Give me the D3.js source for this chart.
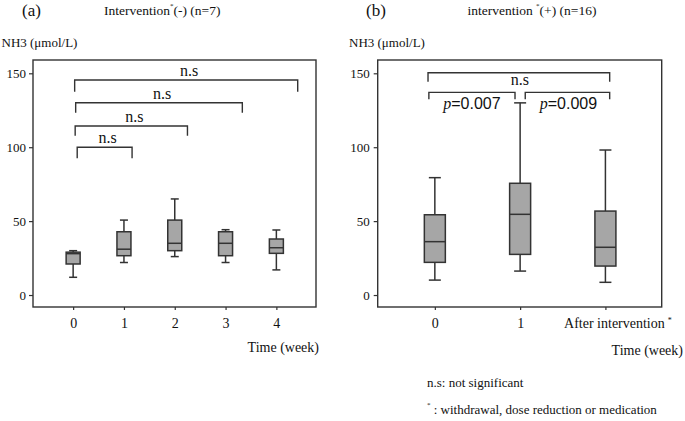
<!DOCTYPE html>
<html><head><meta charset="utf-8">
<script src="https://cdn.jsdelivr.net/npm/d3@7"></script>
<style>
body{margin:0;background:#fff;}
</style></head>
<body><svg id="c" width="685" height="421"></svg>
<script>
// ---- Data ----
const weeksA = ["0","1","2","3","4"];
const aMin = [12, 22, 26, 22, 17];
const aQ1  = [21, 26.6, 30, 26.6, 28.2];
const aMed = [28, 31, 35, 35, 32];
const aQ3  = [29, 42.8, 50.7, 42.8, 37.9];
const aMax = [30, 50.7, 65, 44.2, 44];

const weeksB = ["0","1","After intervention"];
const bMin = [10.1, 16.2, 8.6];
const bQ1  = [22.1, 27.5, 19.6];
const bMed = [36.1, 54.6, 32.3];
const bQ3  = [54.3, 75.6, 56.8];
const bMax = [79.4, 130, 98.1];

const yTicks = [0, 50, 100, 150];
// brackets: x from/to (in category units), bar level, leg end level
const bracketFromA = [0.08, 0.04, 0.05, 0.03];
const bracketToA   = [1.16, 2.25, 3.33, 4.42];
const bracketYA    = [100, 114.3, 130.1, 145.5];
const bracketLegA  = [92.5, 107.8, 123.3, 137.5];
const bracketLabA  = ["n.s","n.s","n.s","n.s"];

const bracketFromB = [-0.08, -0.07, 1.06];
const bracketToB   = [2.05, 0.94, 2.05];
const bracketYB    = [150.4, 137.1, 137.1];
const bracketLegB  = [144.3, 132.4, 132.4];
const pLabels = ["0.007","0.009"];

const SERIF = "'Liberation Serif'";
const svg = d3.select("#c");
const stroke = "#333";

function panel(cfg){
  const g = svg.append("g");
  const x = d3.scaleLinear().domain(cfg.xDom).range([cfg.left, cfg.right]);
  const y = d3.scaleLinear().domain([-8.1, 159]).range([307, 60]);
  g.append("rect").attr("x", cfg.left).attr("y", 60)
    .attr("width", cfg.right-cfg.left).attr("height", 247)
    .attr("fill","none").attr("stroke",stroke).attr("stroke-width",1.4);
  const ya = g.append("g").attr("transform",`translate(${cfg.left},0)`)
    .call(d3.axisLeft(y).tickValues(yTicks).tickSize(4).tickPadding(cfg.yPad));
  ya.attr("font-family",null);
  ya.select(".domain").remove();
  ya.selectAll("line").attr("stroke",stroke).attr("stroke-width",1.2);
  ya.selectAll("text").style("font-size","13px").attr("fill","#111");
  const xa = g.append("g").attr("transform",`translate(0,307)`)
    .call(d3.axisBottom(x).tickValues(cfg.cats.map((d,i)=>i)).tickFormat(i=>cfg.cats[i]).tickSize(3).tickPadding(8));
  xa.attr("font-family",null);
  xa.select(".domain").remove();
  xa.selectAll("line").attr("stroke",stroke).attr("stroke-width",1.2);
  xa.selectAll("text").style("font-size","14px").attr("fill","#111");
  if(cfg.lastLabelShift){
    xa.selectAll(".tick").filter((d,i)=>i===cfg.cats.length-1).select("text")
      .attr("dx", cfg.lastLabelShift)
      .append("tspan").attr("dx",3).attr("dy",-5).style("font-size","8px").text("*");
  }
  const bw = cfg.boxW, cw = cfg.capW;
  cfg.cats.forEach((c,i)=>{
    const cx = x(i);
    const bg = g.append("g");
    bg.append("line").attr("x1",cx).attr("x2",cx).attr("y1",y(cfg.min[i])).attr("y2",y(cfg.q1[i]));
    bg.append("line").attr("x1",cx).attr("x2",cx).attr("y1",y(cfg.q3[i])).attr("y2",y(cfg.max[i]));
    bg.append("line").attr("x1",cx-cw/2).attr("x2",cx+cw/2).attr("y1",y(cfg.min[i])).attr("y2",y(cfg.min[i]));
    bg.append("line").attr("x1",cx-cw/2).attr("x2",cx+cw/2).attr("y1",y(cfg.max[i])).attr("y2",y(cfg.max[i]));
    bg.append("rect").attr("x",cx-bw/2).attr("y",y(cfg.q3[i])).attr("width",bw)
      .attr("height",y(cfg.q1[i])-y(cfg.q3[i])).attr("fill","#a6a6a6");
    bg.append("line").attr("x1",cx-bw/2).attr("x2",cx+bw/2).attr("y1",y(cfg.med[i])).attr("y2",y(cfg.med[i]));
    bg.selectAll("line,rect").attr("stroke",stroke).attr("stroke-width",1.5);
  });
  cfg.bFrom.forEach((f,i)=>{
    const t = cfg.bTo[i];
    const p = d3.path();
    p.moveTo(x(f), y(cfg.bLeg[i])); p.lineTo(x(f), y(cfg.bY[i]));
    p.lineTo(x(t), y(cfg.bY[i])); p.lineTo(x(t), y(cfg.bLeg[i]));
    g.append("path").attr("d",p.toString()).attr("fill","none").attr("stroke",stroke).attr("stroke-width",1.4);
  });
  return {g,x,y};
}

// Panel A
const A = panel({left:33,right:316,xDom:[-0.79,4.78],cats:weeksA,
  min:aMin,q1:aQ1,med:aMed,q3:aQ3,max:aMax,boxW:14,capW:8,yPad:3,
  bFrom:bracketFromA,bTo:bracketToA,bY:bracketYA,bLeg:bracketLegA});
bracketLabA.forEach((l,i)=>{
  A.g.append("text").attr("x",(A.x(bracketFromA[i])+A.x(bracketToA[i]))/2+3)
    .attr("y",A.y(bracketYA[i])-4).attr("text-anchor","middle")
    .style("font-size","16px").text(l);
});

// Panel B
const B = panel({left:377.7,right:661.7,xDom:[-0.67,2.66],cats:weeksB,
  min:bMin,q1:bQ1,med:bMed,q3:bQ3,max:bMax,boxW:21,capW:12,yPad:4,lastLabelShift:12,
  bFrom:bracketFromB,bTo:bracketToB,bY:bracketYB,bLeg:bracketLegB});
B.g.append("text").attr("x",(B.x(bracketFromB[0])+B.x(bracketToB[0]))/2+1)
  .attr("y",B.y(bracketYB[0])+12).attr("text-anchor","middle").style("font-size","16px").text("n.s");
[1,2].forEach((bi,k)=>{
  const t = B.g.append("text").attr("x",(B.x(bracketFromB[bi])+B.x(bracketToB[bi]))/2 + (k===0?0:1))
    .attr("y",B.y(bracketYB[bi])+17).attr("text-anchor","middle").style("font-size","16px");
  t.append("tspan").style("font-style","italic").text("p");
  t.append("tspan").style("font-family","'Liberation Sans'").text("="+pLabels[k]);
});

// Titles & labels
function txt(x,y,s,size,anchor){
  return svg.append("text").attr("x",x).attr("y",y).attr("text-anchor",anchor||"start")
    .attr("dominant-baseline","central").style("font-size",size+"px").text(s);
}
txt(22,10,"(a)",17);
txt(366,10,"(b)",17);
const tA = txt(104,10,"Intervention",13.5);
tA.append("tspan").attr("dy",-4).style("font-size","7px").text("*");
tA.append("tspan").attr("dy",4).text("(-) (n=7)");
const tB = txt(467.5,10,"intervention ",13.5);
tB.append("tspan").attr("dy",-4).style("font-size","7px").text("*");
tB.append("tspan").attr("dy",4).text("(+) (n=16)");
txt(1.5,42,"NH3 (μmol/L)",13);
txt(349,42,"NH3 (μmol/L)",13);
txt(319,347,"Time (week)",14,"end");
txt(683,350,"Time (week)",14,"end");
txt(427,382,"n.s: not significant",13);
const n2 = txt(427,408.5,"",13);
n2.append("tspan").attr("dy",-4).style("font-size","7px").text("*");
n2.append("tspan").attr("dy",4).text(" : withdrawal, dose reduction or medication");

svg.selectAll("text").style("font-family",SERIF).attr("fill","#111");
</script></body></html>
